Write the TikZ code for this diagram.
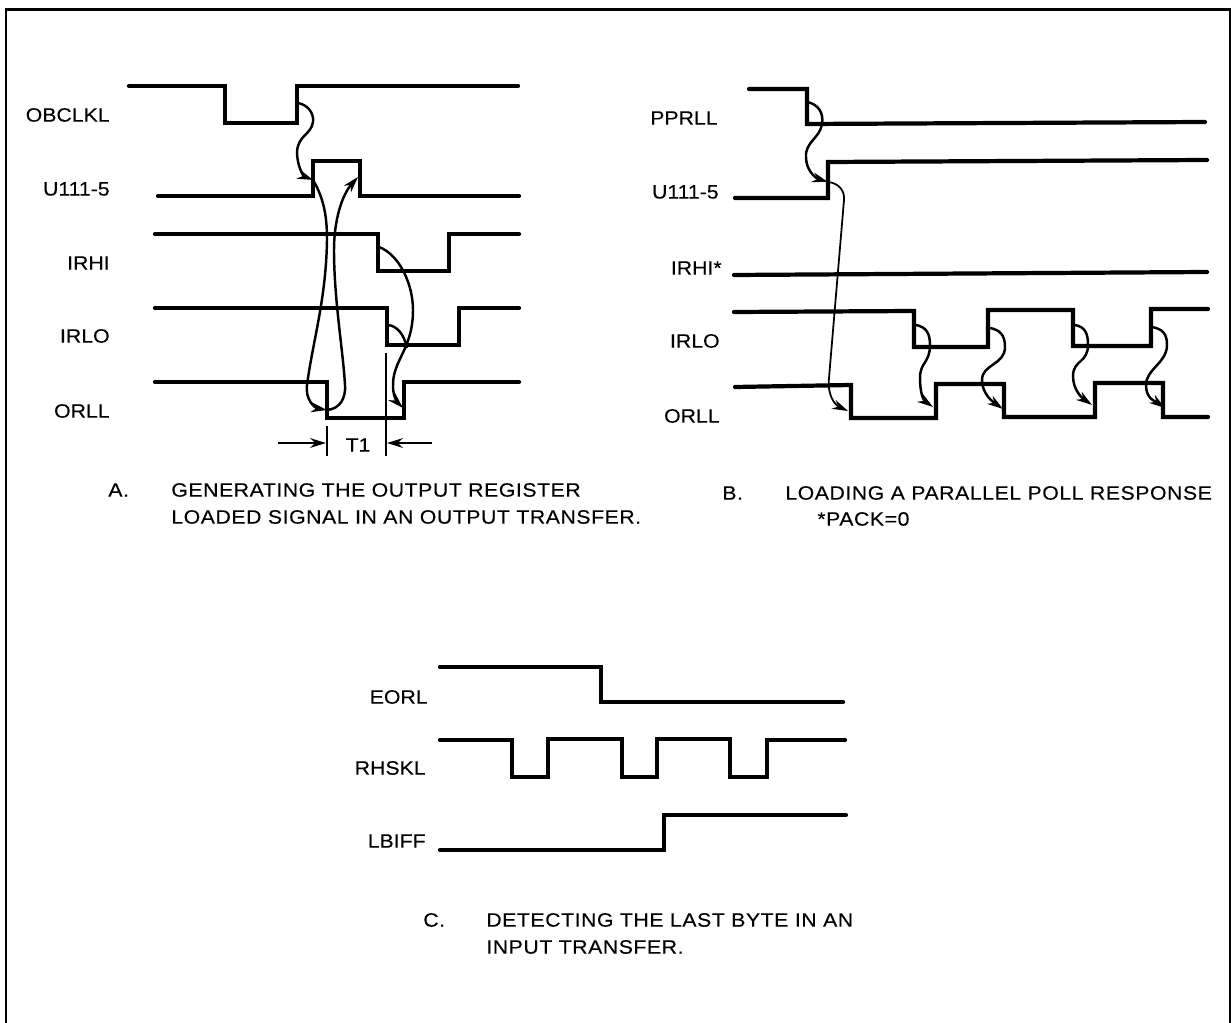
\documentclass[tikz,border=0pt]{standalone}
\usepackage{fontspec}
\setmainfont[FakeStretch=1.1,FakeBold=0.15]{Liberation Sans}
\usetikzlibrary{arrows.meta}
\newfontfamily\wideface[FakeStretch=1.1,FakeBold=0.15,LetterSpace=2.8]{Liberation Sans}
\begin{document}
\begin{tikzpicture}[x=0.02cm, y=-0.02cm, >={Stealth[length=9pt,width=5.5pt]}, font=\fontsize{11}{13}\selectfont,
   wave/.style={line width=2.4pt, line cap=round, miter limit=2},
   cause/.style={->, line width=1.4pt},
   sig/.style={anchor=east, inner sep=0pt},
   caption/.style={anchor=west, inner sep=0pt, font=\fontsize{11}{13}\selectfont\wideface}]
  \useasboundingbox (0,0) rectangle (1231,1023);
  \draw[line width=1.7pt] (6,1023) -- (6,10) -- (1230,10) -- (1230,1023);

  % A
  \node[sig] (aob)  at (110,115) {OBCLKL};
  \node[sig] (au)   at (110,189) {U111-5};
  \node[sig] (ahi)  at (110,263) {IRHI};
  \node[sig] (alo)  at (110,336) {IRLO};
  \node[sig] (aor)  at (110,411) {ORLL};
  \draw[wave] (129,86) -- (225,86) -- (225,123) -- (297,123) -- (297,86) -- (518,86);
  \draw[wave] (158,196) -- (313,196) -- (313,161) -- (360,161) -- (360,196) -- (519,196);
  \draw[wave] (155,234) -- (378,234) -- (378,271) -- (449,271) -- (449,234) -- (519,234);
  \draw[wave] (155,308) -- (387,308) -- (387,345) -- (459,345) -- (459,308) -- (519,308);
  \draw[wave] (155,382) -- (327,382) -- (327,418) -- (404,418) -- (404,382) -- (519,382);
  \coordinate (aobrise) at (298,103);
  \coordinate (aurise)  at (313,180);
  \coordinate (aufall)  at (358,177);
  \coordinate (aorfall) at (327,410);
  \coordinate (ahifall) at (379,247);
  \coordinate (alofall) at (388,325);
  \coordinate (aorrise) at (403,408);
  \coordinate (alomeet) at (407,348);
  \draw[cause] (aobrise) .. controls (308,105) and (314,113) .. (313,122)
    .. controls (311,135) and (298,135) .. (297,152) .. controls (297,165) and (303,176) .. (aurise);
  \draw[cause] (aurise) .. controls (325,200) and (327,220) .. (327,240)
    .. controls (326,300) and (313,340) .. (307,385) .. controls (305,400) and (315,408) .. (aorfall);
  \draw[cause] (aorfall) .. controls (340,409) and (346,398) .. (345,385)
    .. controls (343,350) and (334,300) .. (334,250) .. controls (334,220) and (342,195) .. (aufall);
  \draw[cause] (ahifall) .. controls (400,255) and (413,285) .. (413,310)
    .. controls (413,350) and (392,360) .. (393,387) .. controls (393,395) and (397,402) .. (aorrise);
  \draw[line width=1.4pt] (alofall) .. controls (397,326) and (404,334) .. (alomeet);
  % T1
  \coordinate (tla) at (327,426);
  \coordinate (tlb) at (327,456);
  \coordinate (tra) at (386,353);
  \coordinate (trb) at (386,456);
  \draw[line width=1.2pt] (tla) -- (tlb);
  \draw[line width=1.2pt] (tra) -- (trb);
  \coordinate (tlin) at (278,443);
  \coordinate (tlto) at (326,443);
  \coordinate (trin) at (432,443);
  \coordinate (trto) at (387,443);
  \draw[cause] (tlin) -- (tlto);
  \draw[cause] (trin) -- (trto);
  \node[inner sep=0pt] (tone) at (358,445) {T1};
  \node[caption] (acap)  at (108,490) {A.};
  \node[caption] (acapa) at (171,490) {GENERATING THE OUTPUT REGISTER};
  \node[caption] (acapb) at (171,517) {LOADED SIGNAL IN AN OUTPUT TRANSFER.};

  % B
  \node[sig] (bpp)  at (718,118) {PPRLL};
  \node[sig] (bu)   at (719,192) {U111-5};
  \node[sig] (bhi)  at (722,268) {IRHI*};
  \node[sig] (blo)  at (720,341) {IRLO};
  \node[sig] (bor)  at (720,416) {ORLL};
  \draw[wave] (749,89) -- (807,89) -- (807,124) -- (1205,122);
  \draw[wave] (735,198) -- (828,198) -- (828,162) -- (1207,160);
  \draw[wave] (734,275) -- (1207,272);
  \draw[wave] (734,312) -- (914,311) -- (914,347) -- (988,347) -- (988,310) -- (1073,310) -- (1073,346)
    -- (1151,346) -- (1151,309) -- (1208,309);
  \draw[wave] (735,387) -- (851,385) -- (851,418) -- (936,418) -- (936,384) -- (1004,384) -- (1004,417)
    -- (1095,417) -- (1095,383) -- (1163,383) -- (1163,417) -- (1208,417);
  \coordinate (bppfall) at (807,102);
  \coordinate (burise)  at (828,182);
  \coordinate (borfall) at (848,411);
  \draw[cause] (bppfall) .. controls (818,104) and (824,113) .. (822,124)
    .. controls (820,138) and (805,142) .. (806,157) .. controls (806,170) and (815,178) .. (burise);
  \draw[->, line width=1pt] (burise) .. controls (838,183) and (845,190) .. (844,200)
    -- (829,378) .. controls (827,395) and (835,405) .. (borfall);
  \coordinate (blo1) at (916,325);
  \coordinate (blo2) at (990,328);
  \coordinate (blo3) at (1075,325);
  \coordinate (blo4) at (1152,327);
  \coordinate (bor1) at (933,407);
  \coordinate (bor2) at (1003,409);
  \coordinate (bor3) at (1092,405);
  \coordinate (bor4) at (1165,408);
  \foreach \from/\bx/\by/\mx/\my/\to in {blo1/930/345/920/378/bor1, blo2/1005/347/982/380/bor2,
      blo3/1088/345/1073/376/bor3, blo4/1167/345/1146/385/bor4}
    \draw[cause] (\from) .. controls +(10,2) and +(0,-12) .. (\bx,\by)
      .. controls +(0,18) and +(0,-16) .. (\mx,\my) .. controls +(0,14) and +(-10,-7) .. (\to);
  \node[caption] (bcap)  at (722,493) {B.};
  \node[caption] (bcapa) at (785,493) {LOADING A PARALLEL POLL RESPONSE};
  \node[caption] (bcapb) at (817,519) {*PACK=0};

  % C
  \node[sig] (ceo)  at (428,697) {EORL};
  \node[sig] (crh)  at (426,768) {RHSKL};
  \node[sig] (clb)  at (426,841) {LBIFF};
  \draw[wave] (440,667) -- (601,667) -- (601,702) -- (843,702);
  \draw[wave] (440,740) -- (512,740) -- (512,777) -- (548,777) -- (548,739) -- (622,739) -- (622,777)
    -- (657,777) -- (657,739) -- (730,739) -- (730,777) -- (767,777) -- (767,740) -- (845,740);
  \draw[wave] (440,850) -- (664,850) -- (664,815) -- (846,815);
  \node[caption] (ccap)  at (423,920) {C.};
  \node[caption] (ccapa) at (486,920) {DETECTING THE LAST BYTE IN AN};
  \node[caption] (ccapb) at (486,947) {INPUT TRANSFER.};
\end{tikzpicture}
\end{document}
